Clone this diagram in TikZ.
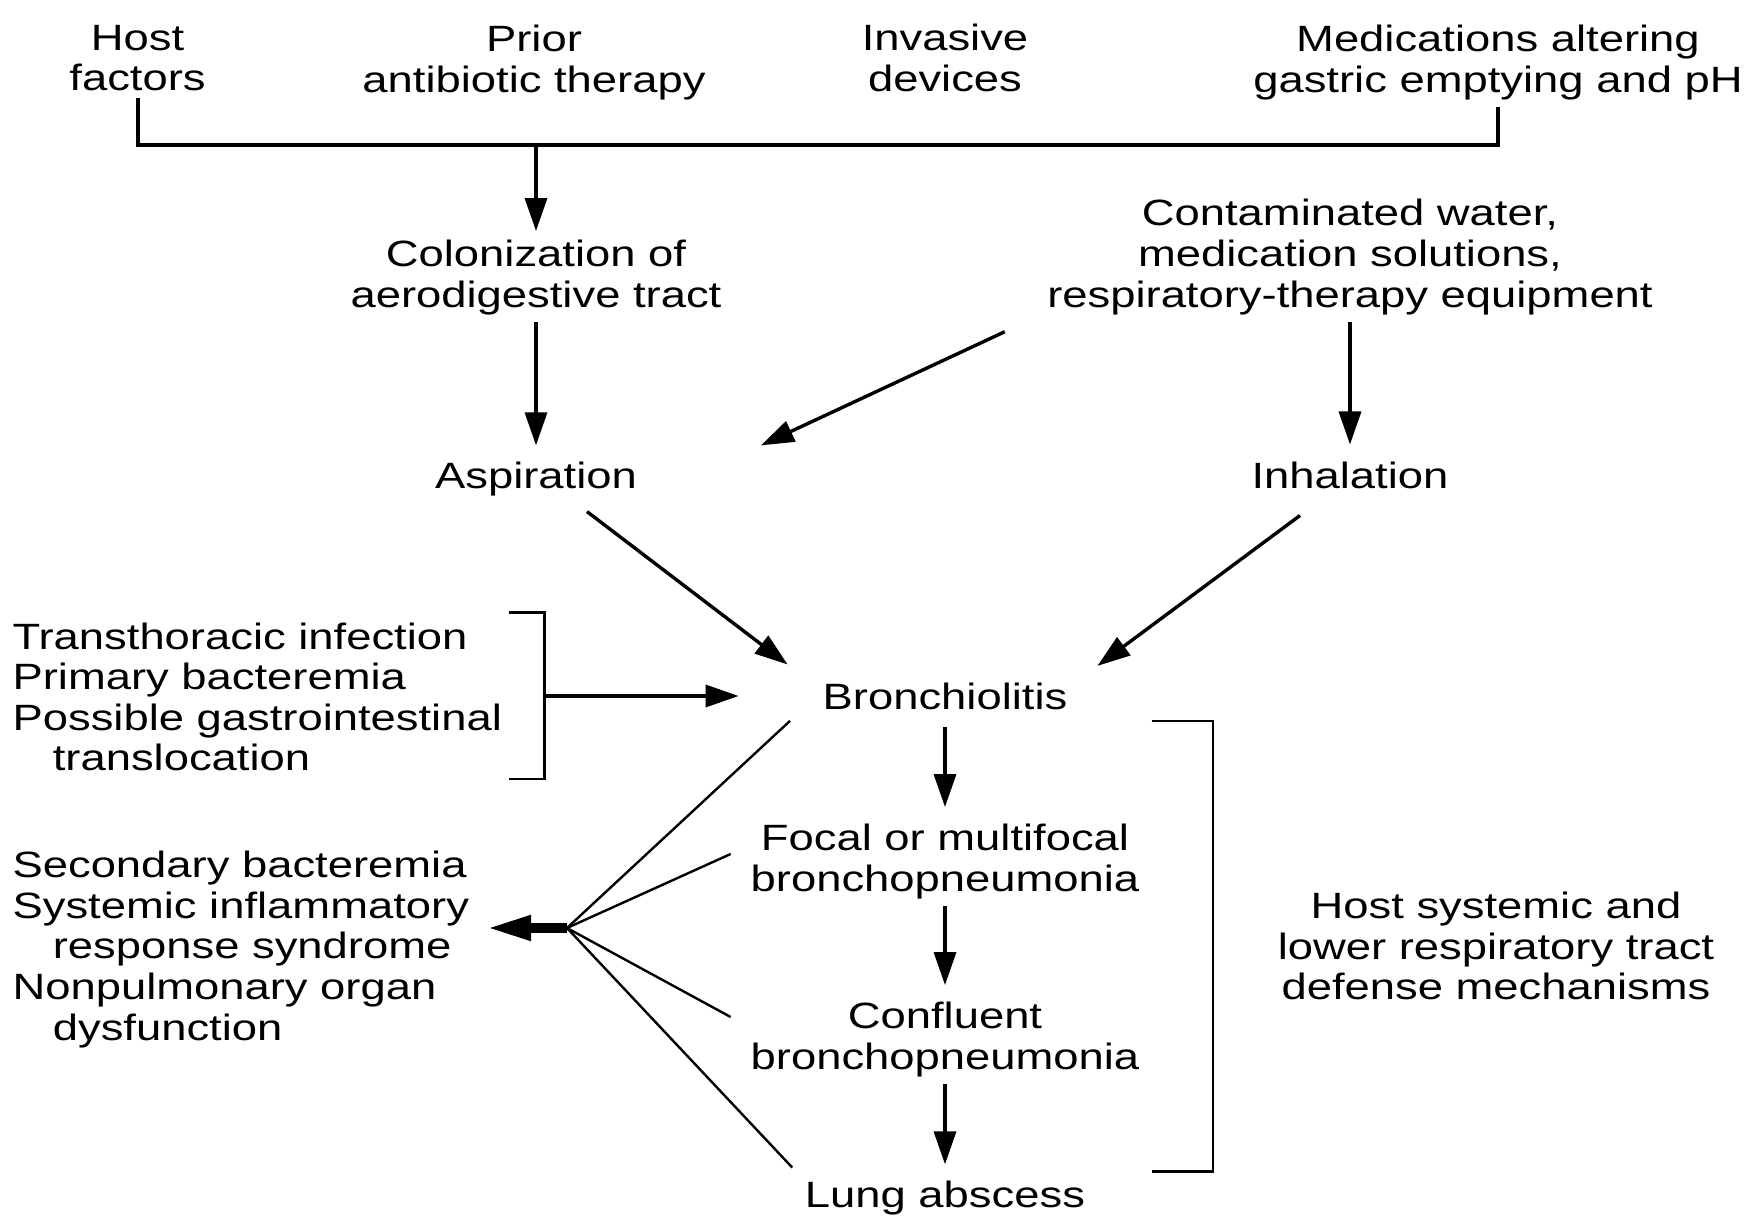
\documentclass[tikz,border=0pt]{standalone}
\usepackage{fontspec}
\setmainfont{Liberation Sans}[FakeStretch=1.24]
\usetikzlibrary{arrows.meta}

\begin{document}
\begin{tikzpicture}[x=0.5pt,y=-0.5pt,
  txt/.style={align=center,font=\fontsize{18.3}{20.3}\selectfont},
  lft/.style={align=left,anchor=west,font=\fontsize{18.3}{20.3}\selectfont},
  arr/.style={-{Triangle[length=16.5pt,width=11pt]},line width=1.7pt},
  varr/.style={arr,shorten >=5pt},
  thin/.style={line width=1.2pt},
  fat/.style={-{Triangle[length=22.5pt,width=11.5pt]},line width=5pt}]
\useasboundingbox (0,0) rectangle (1753,1224);
% risk factors along the top
\node[txt] (host) at (137.5,58) {Host\\factors};
\node[txt] (prior) at (534,62.5) {Prior\\antibiotic therapy};
\node[txt] (inv) at (945,58) {Invasive\\devices};
\node[txt] (meds) at (1498,62.5) {Medications altering\\gastric emptying and pH};
% sources
\node[txt] (colon) at (536,277.5) {Colonization of\\aerodigestive tract};
\node[txt] (water) at (1350,257) {Contaminated water,\\medication solutions,\\respiratory-therapy equipment};
\node[txt] (asp) at (536,479.5) {Aspiration};
\node[txt] (inh) at (1350,475) {Inhalation};
% lung course
\node[txt] (bron) at (945,696) {Bronchiolitis};
\node[txt] (focal) at (945,861.5) {Focal or multifocal\\bronchopneumonia};
\node[txt] (conf) at (945,1039.5) {Confluent\\bronchopneumonia};
\node[txt] (lung) at (945,1198.5) {Lung abscess};
\node[txt] (defense) at (1496,946) {Host systemic and\\lower respiratory tract\\defense mechanisms};
% side lists
\node[lft] (routes) at (5.5,697) {Transthoracic infection\\Primary bacteremia\\Possible gastrointestinal\\\hspace*{1.1em}translocation};
\node[lft] (spread) at (5.5,949.5) {Secondary bacteremia\\Systemic inflammatory\\\hspace*{1.1em}response syndrome\\Nonpulmonary organ\\\hspace*{1.1em}dysfunction};

% top bar
\coordinate (bar) at (536,145);
\draw[line width=2pt] (host.south) -- (host.south |- bar) -- (meds.south |- bar) -- (meds.south);
\draw[varr,shorten >=1pt] (bar) -- (colon.north);
\draw[varr] (colon.south) -- (asp.north);
\draw[varr] (water.south) -- (inh.north);
\draw[arr] ([xshift=-17.7pt,yshift=-5pt]water.south west) -- ([xshift=58.5pt,yshift=5pt]asp.north east);
\draw[arr] ([xshift=25.5pt,yshift=-4pt]asp.south) -- ([xshift=-14pt,yshift=5.5pt]bron.north west);
\draw[arr] ([xshift=-25pt,yshift=-10pt]inh.south) -- ([xshift=11.5pt,yshift=4.8pt]bron.north east);
% left bracket
\draw[thin] (508.7,612.7) -- (544.5,612.7) -- (544.5,779) -- (508.7,779);
\coordinate (rb) at (544.5,696);
\draw[arr,shorten >=38.5pt] (rb) -- (bron.west);
% chain
\draw[varr,shorten <=5pt] (bron.south) -- (focal.north);
\draw[varr] (focal.south) -- (conf.north);
\draw[varr] (conf.south) -- (lung.north);
% right bracket
\draw[thin] (1151.5,721) -- (1213,721) -- (1213,1171.6) -- (1151.5,1171.6);
% fan to systemic effects
\coordinate (fan) at (567,928);
\draw[thin] ([xshift=-12.8pt,yshift=-2.2pt]bron.south west) -- (fan);
\draw[thin] ([xshift=-6.5pt,yshift=3.75pt]focal.west) -- (fan);
\draw[thin] ([xshift=-6.5pt,yshift=11.25pt]conf.west) -- (fan);
\draw[thin] ([xshift=-2.8pt,yshift=3.4pt]lung.north west) -- (fan);
\draw[fat,shorten >=5pt] (fan) -- (spread.east |- fan);
\end{tikzpicture}
\end{document}
